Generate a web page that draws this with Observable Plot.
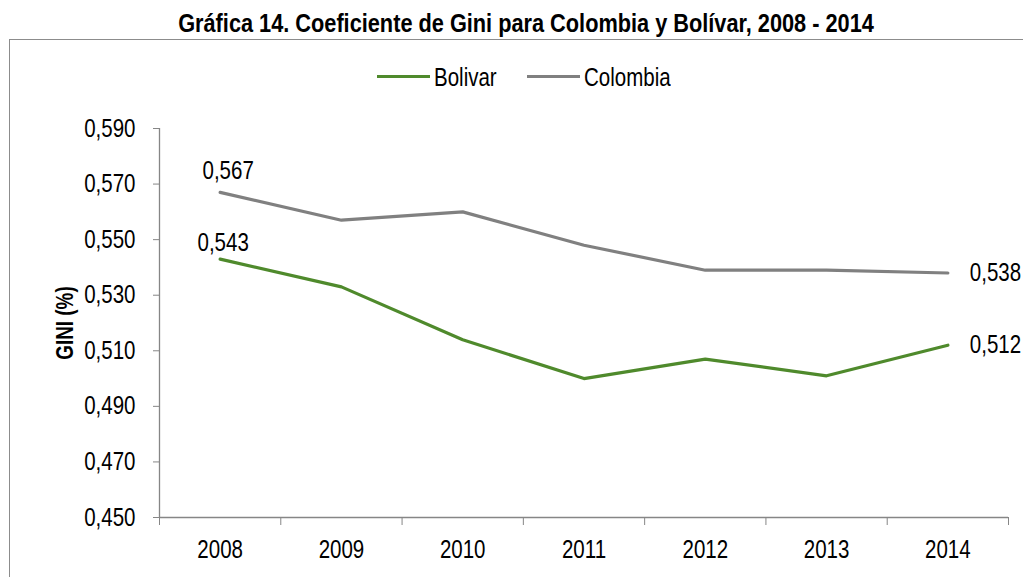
<!DOCTYPE html>
<html>
<head>
<meta charset="utf-8">
<script src="https://cdn.jsdelivr.net/npm/d3@7"></script>
<script src="https://cdn.jsdelivr.net/npm/@observablehq/plot@0.6"></script>
<style>
  html, body { margin: 0; padding: 0; background: #fff; }
  #wrap { position: relative; width: 1023px; height: 577px; overflow: hidden; font-family: "Liberation Sans", Arial, sans-serif; color: #000; }
  #title { position: absolute; left: 0; width: 1052px; top: 10px; text-align: center; font-weight: bold; font-size: 26.5px; line-height: 1; transform: scaleX(0.82); transform-origin: 526px 0; white-space: nowrap; }
  #box { position: absolute; left: 9px; top: 39px; width: 1100px; height: 700px; border: 1px solid #8c8c8c; box-sizing: border-box; }
  .sw { position: absolute; height: 3px; }
  .lt { position: absolute; font-size: 25px; transform: scaleX(0.82); transform-origin: 0 0; white-space: nowrap; line-height: 1; }
  #chart { position: absolute; left: 0; top: 0; }
</style>
</head>
<body>
<div id="wrap">
  <div id="box"></div>
  <div id="title">Gráfica 14. Coeficiente de Gini para Colombia y Bolívar, 2008 - 2014</div>
  <div id="legend"></div>
  <div id="chart"></div>
</div>
<script>
const years = [2008, 2009, 2010, 2011, 2012, 2013, 2014];
const bolivar = [0.543, 0.533, 0.514, 0.500, 0.507, 0.501, 0.512];
const colombia = [0.567, 0.557, 0.560, 0.548, 0.539, 0.539, 0.538];
const seriesNames = ["Bolivar", "Colombia"];
const seriesColors = ["#4f8a2c", "#808080"];
const yTicks = [0.450, 0.470, 0.490, 0.510, 0.530, 0.550, 0.570, 0.590];
const yLabel = "GINI (%)";

const data = [];
years.forEach((yr, i) => {
  data.push({year: yr, value: bolivar[i], series: "Bolivar"});
  data.push({year: yr, value: colombia[i], series: "Colombia"});
});
const fmt = v => v.toFixed(3).replace(".", ",");
const firstPts = data.filter(d => d.year === years[0]);
const lastPts = data.filter(d => d.year === years[years.length - 1]);
const boundaries = years.map(y => y - 0.5).concat([years[years.length - 1] + 0.5]);

// legend
const legend = document.getElementById("legend");
const legendX = [377, 527];
seriesNames.forEach((n, i) => {
  const sw = document.createElement("div");
  sw.className = "sw";
  sw.style.left = legendX[i] + "px";
  sw.style.width = "53px";
  sw.style.top = "75px";
  sw.style.background = seriesColors[i];
  legend.appendChild(sw);
  const t = document.createElement("div");
  t.className = "lt";
  t.style.left = (legendX[i] + 57) + "px";
  t.style.top = "65px";
  t.textContent = n;
  legend.appendChild(t);
});

const font = "'Liberation Sans', Arial, sans-serif";
const chart = Plot.plot({
  width: 1023,
  height: 577,
  marginLeft: 159,
  marginRight: 15,
  marginTop: 128,
  marginBottom: 60,
  style: {fontFamily: font, fontSize: "25px", color: "#000", background: "transparent", overflow: "visible"},
  x: {domain: [boundaries[0], boundaries[boundaries.length - 1]], axis: null},
  y: {domain: [0.45, 0.59], axis: null},
  color: {domain: seriesNames, range: seriesColors},
  marks: [
    Plot.axisY({ticks: yTicks, tickFormat: fmt, tickSize: 6, tickPadding: 18, stroke: "#868686", fontSize: 25, label: null}),
    Plot.axisX({ticks: boundaries, tickFormat: () => "", tickSize: 8, stroke: "#868686", label: null}),
    Plot.axisX({ticks: years, tickFormat: d => String(d), tickSize: 0, tickPadding: 23, fontSize: 25, label: null}),
    Plot.ruleX([boundaries[0]], {stroke: "#868686", strokeWidth: 1.3}),
    Plot.ruleY([0.45], {stroke: "#868686", strokeWidth: 1.3}),
    Plot.line(data, {x: "year", y: "value", z: "series", stroke: "series", strokeWidth: 3.2, strokeLinejoin: "round"}),
    Plot.text(firstPts, {x: "year", y: "value", text: d => fmt(d.value),
      textAnchor: "middle", fontSize: 25, fill: "#000", className: "first-label"}),
    Plot.text(lastPts, {x: "year", y: "value", text: d => fmt(d.value), dx: 22, textAnchor: "start", fontSize: 25, fill: "#000"}),
    Plot.text([yLabel], {frameAnchor: "left", dx: -94, rotate: -90, fontWeight: "bold", fontSize: 23, fill: "#000", textAnchor: "middle"})
  ]
});
document.getElementById("chart").appendChild(chart);

// Excel-style label offsets for the first points (Colombia a bit higher/right)
const offs = {Colombia: [8, -21], Bolivar: [3, -16]};
d3.select(chart).selectAll("g.first-label text").each(function(i) {
  const d = firstPts[i];
  const o = offs[d.series];
  const tr = this.getAttribute("transform") || "";
  this.setAttribute("transform", tr + ` translate(${o[0]},${o[1]})`);
});

// condense all texts like Arial Narrow
chart.querySelectorAll("text").forEach(t => {
  const L = t.getComputedTextLength();
  if (L > 0) {
    t.setAttribute("textLength", (L * 0.82).toFixed(2));
    t.setAttribute("lengthAdjust", "spacingAndGlyphs");
  }
});
</script>
</body>
</html>
